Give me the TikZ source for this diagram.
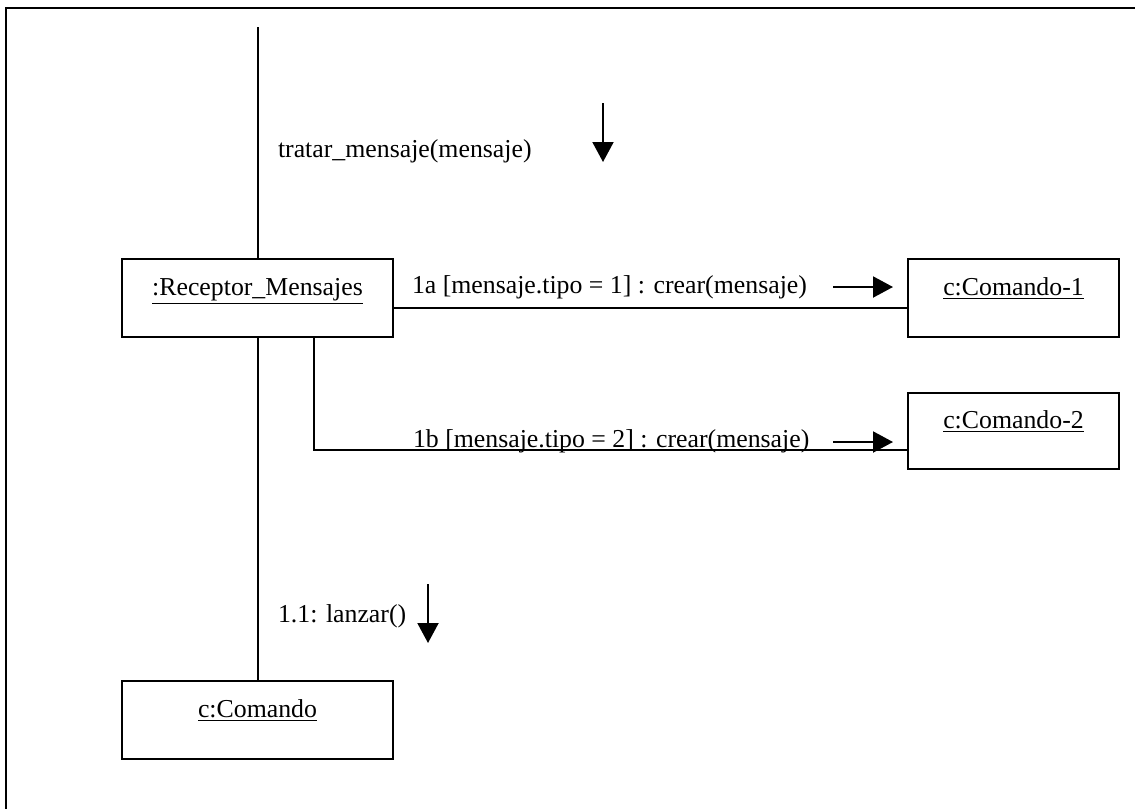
\documentclass[tikz,border=0pt]{standalone}
\usepackage{fontspec}
\setmainfont{Liberation Serif}
\usetikzlibrary{positioning,arrows.meta}

\tikzset{
  obj/.style={draw, line width=1pt, minimum height=39pt, text height=9pt, text depth=12pt},
  msg/.style={inner sep=0pt, anchor=base west},
  flow/.style={line width=1pt, -{Triangle[length=10pt, width=10.5pt]}}
}

\begin{document}
\begin{tikzpicture}[x=0.5pt, y=-0.5pt, node distance=2cm, on grid,
  font=\fontsize{12.9}{15}\selectfont, line width=1pt]

  \useasboundingbox (0,0) rectangle (1135,809);
  \draw[line width=1.3pt] (1135,8) -- (6,8) -- (6,809);

  \node[obj, minimum width=135.5pt] (rec) at (257.5,298) {\underline{:Receptor\_Mensajes}};
  \node[obj, minimum width=105.5pt] (cmd1) [right=378pt of rec] {\underline{c:Comando-1}};
  \node[obj, minimum width=105.5pt, minimum height=38pt] (cmd2) [below=66.5pt of cmd1] {\underline{c:Comando-2}};
  \node[obj, minimum width=135.5pt] (cmd) [below=211pt of rec] {\underline{c:Comando}};

  \coordinate (top) at (257.5,27);

  \path
    (top) edge (rec)
    (rec) edge (cmd);
  \draw ([yshift=-5pt]rec.east) -- ([yshift=-5pt]cmd1.west);
  \draw ([xshift=28.25pt]rec.south) |- ([yshift=-9.5pt]cmd2.west);

  \node[msg] (m0) at (277,157) {tratar\_mensaje(mensaje)};
  \node[msg] (m1a) at (411,293) {1a [mensaje.tipo = 1] : crear(mensaje)};
  \node[msg] (m1b) at (412,447) {1b [mensaje.tipo = 2] : crear(mensaje)};
  \node[msg] (m11) at (277,622) {1.1: lanzar()};

  \coordinate (a0) at (603,103);  \coordinate (b0) at (603,162);
  \coordinate (a1) at (833,287);  \coordinate (b1) at (893,287);
  \coordinate (a2) at (833,442);  \coordinate (b2) at (893,442);
  \coordinate (a3) at (428,584);  \coordinate (b3) at (428,643);
  \foreach \i in {0,...,3}
    \draw[flow] (a\i) -- (b\i);

\end{tikzpicture}
\end{document}
